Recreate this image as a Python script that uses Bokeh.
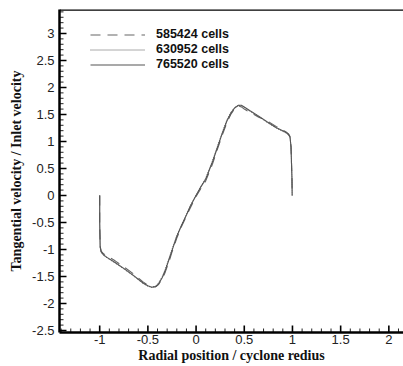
import numpy as np
from bokeh.plotting import figure
from bokeh.models import (Legend, LegendItem, SingleIntervalTicker, Span)
from bokeh.embed import file_html
from bokeh.resources import INLINE

# ---- data ----
x_765520 = [-1.0, -1.0, -0.995, -0.985, -0.96, -0.92, -0.84, -0.75, -0.65, -0.55, -0.5, -0.46,
            -0.42, -0.39, -0.35, -0.32, -0.28, -0.25, -0.2, -0.15, -0.1, -0.06, 0.0, 0.05, 0.1,
            0.17, 0.22, 0.27, 0.32, 0.36, 0.4, 0.44, 0.47, 0.5, 0.56, 0.65, 0.74, 0.83, 0.93,
            0.96, 0.975, 0.985, 0.99, 0.995, 0.997]
y_765520 = [0.0, -0.5, -0.95, -1.04, -1.10, -1.15, -1.24, -1.35, -1.48, -1.62, -1.67, -1.70,
            -1.69, -1.64, -1.52, -1.39, -1.18, -1.02, -0.76, -0.55, -0.36, -0.2, 0.0, 0.16, 0.3,
            0.62, 0.88, 1.14, 1.38, 1.52, 1.62, 1.67, 1.67, 1.64, 1.57, 1.47, 1.36, 1.26, 1.17,
            1.13, 1.08, 0.9, 0.6, 0.3, 0.0]

x_630952 = [-1.0, -1.0, -0.995, -0.985, -0.96, -0.92, -0.84, -0.75, -0.65, -0.55, -0.5, -0.46,
            -0.42, -0.39, -0.35, -0.32, -0.28, -0.25, -0.2, -0.15, -0.1, -0.06, 0.0, 0.05, 0.1,
            0.17, 0.22, 0.27, 0.32, 0.36, 0.4, 0.44, 0.47, 0.5, 0.56, 0.65, 0.74, 0.83, 0.93,
            0.96, 0.975, 0.985, 0.99, 0.995, 0.997]
y_630952 = [0.0, -0.5, -0.96, -1.05, -1.11, -1.16, -1.25, -1.36, -1.49, -1.63, -1.68, -1.70,
            -1.68, -1.62, -1.50, -1.37, -1.16, -1.0, -0.74, -0.54, -0.35, -0.19, 0.01, 0.17, 0.32,
            0.64, 0.9, 1.16, 1.4, 1.54, 1.63, 1.67, 1.66, 1.63, 1.56, 1.46, 1.35, 1.25, 1.16,
            1.12, 1.07, 0.9, 0.6, 0.3, 0.0]

x_585424 = [-1.0, -1.0, -0.995, -0.985, -0.96, -0.92, -0.84, -0.75, -0.65, -0.55, -0.5, -0.46,
            -0.42, -0.39, -0.35, -0.32, -0.28, -0.25, -0.2, -0.15, -0.1, -0.06, 0.0, 0.05, 0.1,
            0.17, 0.22, 0.27, 0.32, 0.36, 0.4, 0.44, 0.47, 0.5, 0.56, 0.65, 0.74, 0.83, 0.93,
            0.96, 0.975, 0.985, 0.99, 0.995, 0.997]
y_585424 = [0.0, -0.5, -0.94, -1.03, -1.08, -1.12, -1.21, -1.32, -1.45, -1.60, -1.66, -1.69,
            -1.69, -1.65, -1.54, -1.42, -1.22, -1.05, -0.79, -0.57, -0.38, -0.23, -0.02, 0.13, 0.27,
            0.58, 0.85, 1.11, 1.35, 1.5, 1.61, 1.66, 1.64, 1.6, 1.54, 1.45, 1.38, 1.28, 1.18,
            1.14, 1.09, 0.9, 0.6, 0.3, 0.0]

series_labels = ["585424 cells", "630952 cells", "765520 cells"]

x_ticks = [-1.0, -0.5, 0.0, 0.5, 1.0, 1.5, 2.0]
y_ticks = [-2.5, -2.0, -1.5, -1.0, -0.5, 0.0, 0.5, 1.0, 1.5, 2.0, 2.5, 3.0]

x_range = (-1.417, 2.152)
y_range = (-2.537, 3.444)

x_minor = [round(v, 2) for v in np.arange(-1.4, 2.151, 0.1) if round(v * 2, 4) % 1 != 0]
y_minor = [round(v, 2) for v in np.arange(-2.5, 3.441, 0.1) if round(v * 2, 4) % 1 != 0]

p = figure(width=403, height=366, output_backend="svg", toolbar_location=None,
           x_range=x_range, y_range=y_range,
           min_border_left=59, min_border_right=0, min_border_top=9, min_border_bottom=34)
p.outline_line_color = None
p.grid.grid_line_color = None
p.background_fill_color = "white"
p.border_fill_color = "white"

r1 = p.line(x_585424, y_585424, line_color="#666666", line_width=1.1, line_dash="10 7")
r2 = p.line(x_630952, y_630952, line_color="#555555", line_width=1.0, line_dash="1 1")
r3 = p.line(x_765520, y_765520, line_color="#555555", line_width=1.1)

# inward ticks (drawn from the tick lists, length in screen pixels)
p.ray(x=x_ticks, y=[y_range[0]] * len(x_ticks), length=7, length_units="screen",
      angle=np.pi / 2, line_color="black", line_width=1.6)
p.ray(x=x_minor, y=[y_range[0]] * len(x_minor), length=4, length_units="screen",
      angle=np.pi / 2, line_color="#222222", line_width=1)
p.ray(x=[x_range[0]] * len(y_ticks), y=y_ticks, length=7, length_units="screen",
      angle=0, line_color="black", line_width=1.6)
p.ray(x=[x_range[0]] * len(y_minor), y=y_minor, length=4, length_units="screen",
      angle=0, line_color="#222222", line_width=1)

for ax in (p.xaxis[0], p.yaxis[0]):
    ax.ticker = SingleIntervalTicker(interval=0.5, num_minor_ticks=5)
    ax.axis_line_width = 2.5
    ax.axis_line_color = "black"
    ax.major_tick_in = 0
    ax.major_tick_out = 0
    ax.minor_tick_in = 0
    ax.minor_tick_out = 0
    ax.major_label_text_font = "Liberation Sans"
    ax.major_label_text_font_size = "13px"
    ax.major_label_text_color = "#222222"
    ax.axis_label_text_font = "Liberation Serif"
    ax.axis_label_text_font_style = "bold"
    ax.axis_label_text_font_size = "14px"
    ax.axis_label_text_color = "#111111"

p.xaxis[0].major_label_overrides = {t: "%g" % t for t in x_ticks}
p.yaxis[0].major_label_overrides = {t: "%g" % t for t in y_ticks}

p.xaxis[0].axis_label = "Radial position / cyclone redius"
p.yaxis[0].axis_label = "Tangential velocity / Inlet velocity"
p.xaxis[0].major_label_standoff = 2
p.xaxis[0].axis_label_standoff = 1
p.yaxis[0].major_label_standoff = 5
p.yaxis[0].axis_label_standoff = 5

top = Span(location=y_range[1], dimension="width", line_color="black", line_width=2.5)
p.add_layout(top)

legend = Legend(items=[LegendItem(label=series_labels[0], renderers=[r1]),
                       LegendItem(label=series_labels[1], renderers=[r2]),
                       LegendItem(label=series_labels[2], renderers=[r3])],
                location=(31, 323 - 17.5 - 45))
legend.padding = 0
legend.margin = 0
legend.spacing = 0
legend.glyph_width = 55
legend.glyph_height = 15
legend.label_height = 15
legend.label_standoff = 11
legend.border_line_alpha = 0
legend.background_fill_alpha = 0
legend.label_text_font = "Liberation Sans"
legend.label_text_font_style = "bold"
legend.label_text_font_size = "12.5px"
legend.label_text_color = "#111111"
p.add_layout(legend, "center")

open("out.html", "w").write(file_html(p, INLINE))
